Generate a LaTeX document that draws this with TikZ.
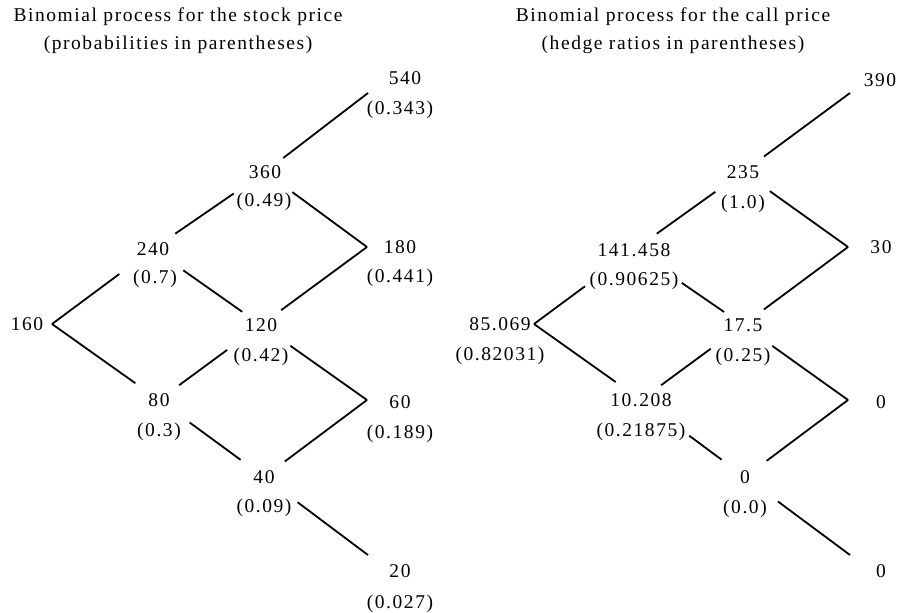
\documentclass[tikz,border=0pt]{standalone}
\usepackage{fontspec}
\setmainfont[LetterSpace=8]{Liberation Serif}
\tikzset{
	val/.style={text height=13.3pt, text depth=0pt, inner sep=0pt},
	branch/.style={line width=1.8pt}
}

\begin{document}
\begin{tikzpicture}[x=1pt, y=-1pt, font=\fontsize{19.5}{28.3}\selectfont]
		\useasboundingbox (0,0) rectangle (898,613);

		\node[align=center] (tstock) at (178,31) {Binomial process for the stock price\\(probabilities in parentheses)};
		\node[align=center] (tcall) at (673,31) {Binomial process for the call price\\(hedge ratios in parentheses)};

		% stock price tree
		\coordinate (v160) at (52,324);
		\coordinate (v540) at (368,93);
		\coordinate (v180) at (367,247);
		\coordinate (v60) at (367,400);
		\coordinate (v20) at (368,555);

		\node[val] (s160) at (27,324) {160};
		\node[val] (s240) at (153,249) {240};
		\node[val] (p240) at (155,277) {(0.7)};
		\node[val] (s80) at (159,400) {80};
		\node[val] (p80) at (159,430) {(0.3)};
		\node[val] (s360) at (265,172) {360};
		\node[val] (p360) at (264,200) {(0.49)};
		\node[val] (s120) at (261,325) {120};
		\node[val] (p120) at (261,355) {(0.42)};
		\node[val] (s40) at (264,477) {40};
		\node[val] (p40) at (264,506) {(0.09)};
		\node[val] (s540) at (405,78) {540};
		\node[val] (p540) at (400,108) {(0.343)};
		\node[val] (s180) at (400,247) {180};
		\node[val] (p180) at (400,276) {(0.441)};
		\node[val] (s60) at (400,402) {60};
		\node[val] (p60) at (400,432) {(0.189)};
		\node[val] (s20) at (400,571) {20};
		\node[val] (p20) at (400,602) {(0.027)};

		\foreach \a/\b/\s/\e in {v160/s240/0/42, v160/s80/0/29, s240/s360/27/38, s240/s120/37/23,
				s360/v540/23/0, s360/v180/34/0, s120/v180/25/0, s120/s80/42/25, s120/v60/36/0,
				s80/s40/38/29, s40/v60/26/0, s40/v20/42/0} {
			\draw[branch, shorten <=\s pt, shorten >=\e pt] (\a.center) -- (\b.center);
		}

		% call price tree
		\coordinate (v85) at (534,324);
		\coordinate (v390) at (850,93);
		\coordinate (v30) at (848,247);
		\coordinate (v0a) at (848,400);
		\coordinate (v0b) at (850,555);

		\node[val] (s85) at (500,324) {85.069};
		\node[val] (p85) at (500,354) {(0.82031)};
		\node[val] (s141) at (634,250) {141.458};
		\node[val] (p141) at (634,279) {(0.90625)};
		\node[val] (s10) at (641,400) {10.208};
		\node[val] (p10) at (641,430) {(0.21875)};
		\node[val] (s235) at (743,172) {235};
		\node[val] (p235) at (743,202) {(1.0)};
		\node[val] (s17) at (743,325) {17.5};
		\node[val] (p17) at (743,355) {(0.25)};
		\node[val] (s0) at (745,477) {0};
		\node[val] (p0) at (745,507) {(0.0)};
		\node[val] (s390) at (880,80) {390};
		\node[val] (s30) at (881,247) {30};
		\node[val] (s0a) at (881,402) {0};
		\node[val] (s0b) at (881,571) {0};

		\foreach \a/\b/\s/\e in {v85/s141/0/61, v85/s10/0/31, s141/s235/28/34, s141/s17/58/23,
				s235/v390/26/0, s235/v30/33/0, s17/v30/26/0, s17/s10/40/25, s17/v0a/36/0,
				s10/s0/60/29, s0/v0a/27/0, s0/v0b/41/0} {
			\draw[branch, shorten <=\s pt, shorten >=\e pt] (\a.center) -- (\b.center);
		}
	\end{tikzpicture}
\end{document}
